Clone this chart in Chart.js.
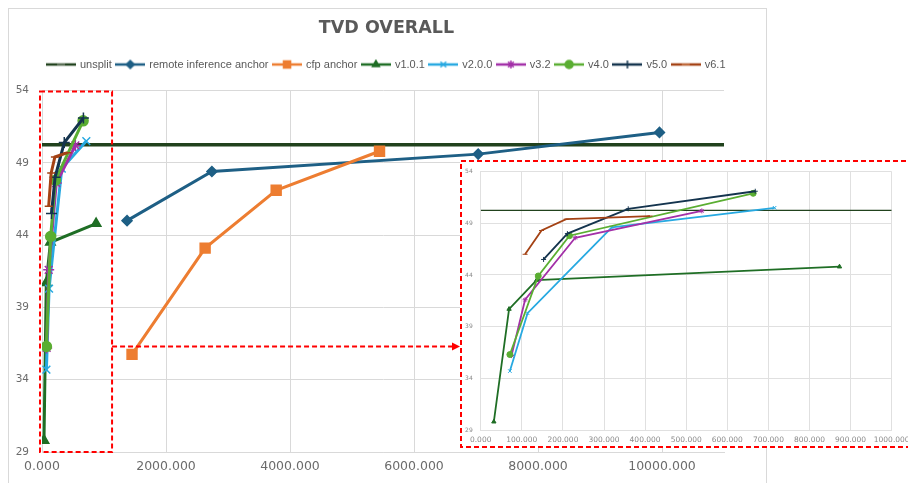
<!DOCTYPE html>
<html>
<head>
<meta charset="utf-8">
<script src="https://cdn.jsdelivr.net/npm/chart.js@4.4.1/dist/chart.umd.min.js"></script>
<style>
  html, body { margin: 0; padding: 0; background: #fff; overflow: hidden; }
  body { width: 908px; height: 483px; position: relative; }
  #frame { position: absolute; left: 8px; top: 8px; width: 757px; height: 490px; border: 1px solid #d9d9d9; }
  #mainWrap { position: absolute; left: 9px; top: 9px; width: 755px; height: 471px; }
  #insetWrap { position: absolute; left: 460px; top: 160px; width: 480px; height: 288px; background: #fff; }
</style>
</head>
<body>
<div id="frame"></div>
<div id="mainWrap"><canvas id="mainChart" width="755" height="471"></canvas></div>
<div id="insetWrap"><canvas id="insetChart" width="480" height="288"></canvas></div>
<script>
// ---- data ----
const seriesNames = ['unsplit', 'remote inference anchor', 'cfp anchor', 'v1.0.1', 'v2.0.0', 'v3.2', 'v4.0', 'v5.0', 'v6.1'];
const unsplitTvd = 50.25;

const remoteX = [1372, 2740, 7035, 9959];
const remoteY = [45.0, 48.4, 49.6, 51.1];
const cfpX = [1452, 2631, 3777, 5444];
const cfpY = [35.75, 43.1, 47.1, 49.8];
const v101X = [32, 69, 136, 873];
const v101Y = [29.8, 40.7, 43.5, 44.8];
const v200X = [71, 114, 319, 715];
const v200Y = [34.7, 40.3, 48.6, 50.5];
const v32X = [75, 108, 230, 538];
const v32Y = [36.2, 41.6, 47.6, 50.2];
const v40X = [71, 140, 216, 663];
const v40Y = [36.3, 43.9, 47.8, 51.9];
const v50X = [153, 211, 359, 668];
const v50Y = [45.5, 48.0, 50.4, 52.1];
const v61X = [108, 148, 208, 412];
const v61Y = [46.0, 48.3, 49.4, 49.7];

const yRange = [29, 54];
const mainXRange = [0, 11000];
const mainXTicks = [0, 2000, 4000, 6000, 8000, 10000];
const insetXRange = [0, 1000];
const zoomBoxX = [0, 1130];   // region blown up in the inset
const arrowY = 36.3;

// ---- styles ----
const styles = [
  { color: '#21421d', pointStyle: false, r: 0, mark: '#6f7f6a' },
  { color: '#1e5f85', pointStyle: 'rectRot', r: 5 },
  { color: '#ed7d31', pointStyle: 'rect', r: 7 },
  { color: '#1f6e25', pointStyle: 'triangle', r: 5.5 },
  { color: '#27a9e1', pointStyle: 'crossRot', r: 5.5 },
  { color: '#a330a8', pointStyle: 'star', r: 5.5 },
  { color: '#5aae32', pointStyle: 'circle', r: 5 },
  { color: '#14344e', pointStyle: 'cross', r: 5.5 },
  { color: '#a44214', pointStyle: 'line', r: 4, mark: '#c8784a' }
];

const seriesX = [null, remoteX, cfpX, v101X, v200X, v32X, v40X, v50X, v61X];
const seriesY = [null, remoteY, cfpY, v101Y, v200Y, v32Y, v40Y, v50Y, v61Y];

function pointsFor(i, xMax) {
  if (i === 0) return [{ x: 0, y: unsplitTvd }, { x: xMax, y: unsplitTvd }];
  return seriesX[i].map((x, k) => ({ x: x, y: seriesY[i][k] }));
}

function makeDataset(i, xMax, small) {
  const s = styles[i];
  return {
    label: seriesNames[i],
    data: pointsFor(i, xMax),
    borderColor: s.color,
    backgroundColor: s.color,
    borderWidth: i === 0 ? (small ? 1.4 : 3.5) : (small ? 1.8 : 3),
    pointStyle: s.pointStyle || 'circle',
    pointRadius: s.pointStyle ? (small ? (i === 6 ? 3 : 2.5) : s.r) : 0,
    pointBorderWidth: small ? 1 : 1.5,
    pointBackgroundColor: s.color,
    pointBorderColor: s.color,
    showLine: true,
    order: 20 - i
  };
}

function legendIcon(i) {
  const s = styles[i];
  const c = document.createElement('canvas');
  c.width = 30; c.height = 12;
  const g = c.getContext('2d');
  g.strokeStyle = s.color; g.lineWidth = 2.5;
  g.beginPath(); g.moveTo(0, 6); g.lineTo(30, 6); g.stroke();
  const mark = s.mark || s.color;
  g.fillStyle = mark; g.strokeStyle = mark; g.lineWidth = 1.5;
  const ps = s.pointStyle || 'line';
  Chart.helpers.drawPoint(g, { pointStyle: ps, radius: ps === 'rect' ? 5 : 4, rotation: 0, borderWidth: 1.5 }, 15, 6);
  return c;
}

const tickGray = '#6b6b6b';

// red dashed box + arrow on the main chart
const zoomBoxPlugin = {
  id: 'zoomBox',
  afterDraw(chart) {
    const { ctx, scales: { x, y } } = chart;
    const left = x.getPixelForValue(zoomBoxX[0]) - 2;
    const right = x.getPixelForValue(zoomBoxX[1]);
    const top = y.getPixelForValue(yRange[1]) + 1;
    const bottom = y.getPixelForValue(yRange[0]);
    ctx.save();
    ctx.strokeStyle = '#ff0000';
    ctx.lineWidth = 2;
    ctx.setLineDash([5, 3]);
    ctx.strokeRect(left, top, right - left, bottom - top);
    const inset = document.getElementById('insetWrap');
    const endX = inset.offsetLeft - chart.canvas.parentNode.offsetLeft;
    const ay = y.getPixelForValue(arrowY);
    ctx.beginPath(); ctx.moveTo(right, ay); ctx.lineTo(endX - 6, ay); ctx.stroke();
    ctx.setLineDash([]);
    ctx.fillStyle = '#ff0000';
    ctx.beginPath(); ctx.moveTo(endX, ay); ctx.lineTo(endX - 8, ay - 4); ctx.lineTo(endX - 8, ay + 4); ctx.closePath(); ctx.fill();
    ctx.restore();
  }
};

const insetFramePlugin = {
  id: 'insetFrame',
  afterDraw(chart) {
    const ctx = chart.ctx;
    ctx.save();
    ctx.strokeStyle = '#ff0000';
    ctx.lineWidth = 2;
    ctx.setLineDash([5, 3]);
    ctx.strokeRect(1, 1, chart.width - 2, chart.height - 2);
    ctx.restore();
  }
};

// Main chart
const mainCtx = document.getElementById('mainChart');
new Chart(mainCtx, {
  type: 'scatter',
  data: { datasets: seriesNames.map((n, i) => makeDataset(i, mainXRange[1], false)) },
  options: {
    responsive: false,
    animation: false,
    events: [],
    layout: { padding: 0 },
    plugins: {
      title: {
        display: true, text: 'TVD OVERALL', color: '#595959',
        font: { family: 'DejaVu Sans', size: 17.5, weight: 'bold' },
        padding: { top: 9, bottom: 15 }
      },
      legend: {
        position: 'top',
        labels: {
          font: { family: 'Liberation Sans', size: 11 },
          color: '#595959',
          usePointStyle: true,
          pointStyleWidth: 27,
          padding: 5,
          generateLabels: chart => chart.data.datasets.map((ds, i) => ({
            text: ds.label,
            pointStyle: legendIcon(i),
            fillStyle: ds.borderColor,
            strokeStyle: ds.borderColor,
            fontColor: '#595959',
            lineWidth: 0,
            hidden: false,
            datasetIndex: i
          }))
        }
      },
      subtitle: { display: true, text: '', weight: 500, font: { size: 1 }, padding: { top: 0, bottom: 9.3 } },
      tooltip: { enabled: false }
    },
    scales: {
      x: {
        type: 'linear', min: mainXRange[0], max: mainXRange[1],
        afterFit: s => { s.height = 28; },
        afterBuildTicks: s => { s.ticks = mainXTicks.map(v => ({ value: v })); },
        ticks: {
          padding: 7, color: tickGray,
          font: { family: 'DejaVu Sans', size: 12.5 }, maxRotation: 0, autoSkip: false,
          callback: v => Number(v).toFixed(3)
        },
        grid: { color: '#d9d9d9', drawTicks: false },
        border: { color: '#d9d9d9' }
      },
      y: {
        min: yRange[0], max: yRange[1],
        afterFit: s => { s.width = 33; },
        ticks: { stepSize: 5, padding: 13, color: tickGray, font: { family: 'DejaVu Sans', size: 10.5 } },
        grid: { color: '#d9d9d9', drawTicks: false },
        border: { color: '#d9d9d9' }
      },
      // empty right-hand gutter so title/legend stay centred on the whole frame
      gutter: {
        position: 'right', min: yRange[0], max: yRange[1],
        afterFit: s => { s.width = 40; },
        ticks: { display: false },
        grid: { display: false },
        border: { display: false }
      }
    }
  },
  plugins: [zoomBoxPlugin]
});

// Inset chart (zoom of the first 1000 units)
const insetIdx = [0, 3, 4, 5, 6, 7, 8];
const insetCtx = document.getElementById('insetChart');
new Chart(insetCtx, {
  type: 'scatter',
  data: { datasets: insetIdx.map(i => makeDataset(i, insetXRange[1], true)) },
  options: {
    responsive: false,
    animation: false,
    events: [],
    layout: { padding: { left: 0, right: 48.3, top: 10.7, bottom: 0 } },
    plugins: { legend: { display: false }, tooltip: { enabled: false } },
    scales: {
      x: {
        type: 'linear', min: insetXRange[0], max: insetXRange[1],
        afterFit: s => { s.height = 18; },
        ticks: {
          stepSize: 100, padding: 6, color: '#8a8a8a',
          font: { family: 'DejaVu Sans', size: 7.5 }, maxRotation: 0, autoSkip: false,
          callback: v => Number(v).toFixed(3)
        },
        grid: { color: '#e0e0e0', drawTicks: false },
        border: { color: '#e0e0e0' }
      },
      y: {
        min: yRange[0], max: yRange[1],
        afterFit: s => { s.width = 20.7; },
        ticks: { stepSize: 5, padding: 8, color: '#8a8a8a', font: { family: 'DejaVu Sans', size: 6 } },
        grid: { color: '#e0e0e0', drawTicks: false },
        border: { color: '#e0e0e0' }
      }
    }
  },
  plugins: [insetFramePlugin]
});
</script>
</body>
</html>
